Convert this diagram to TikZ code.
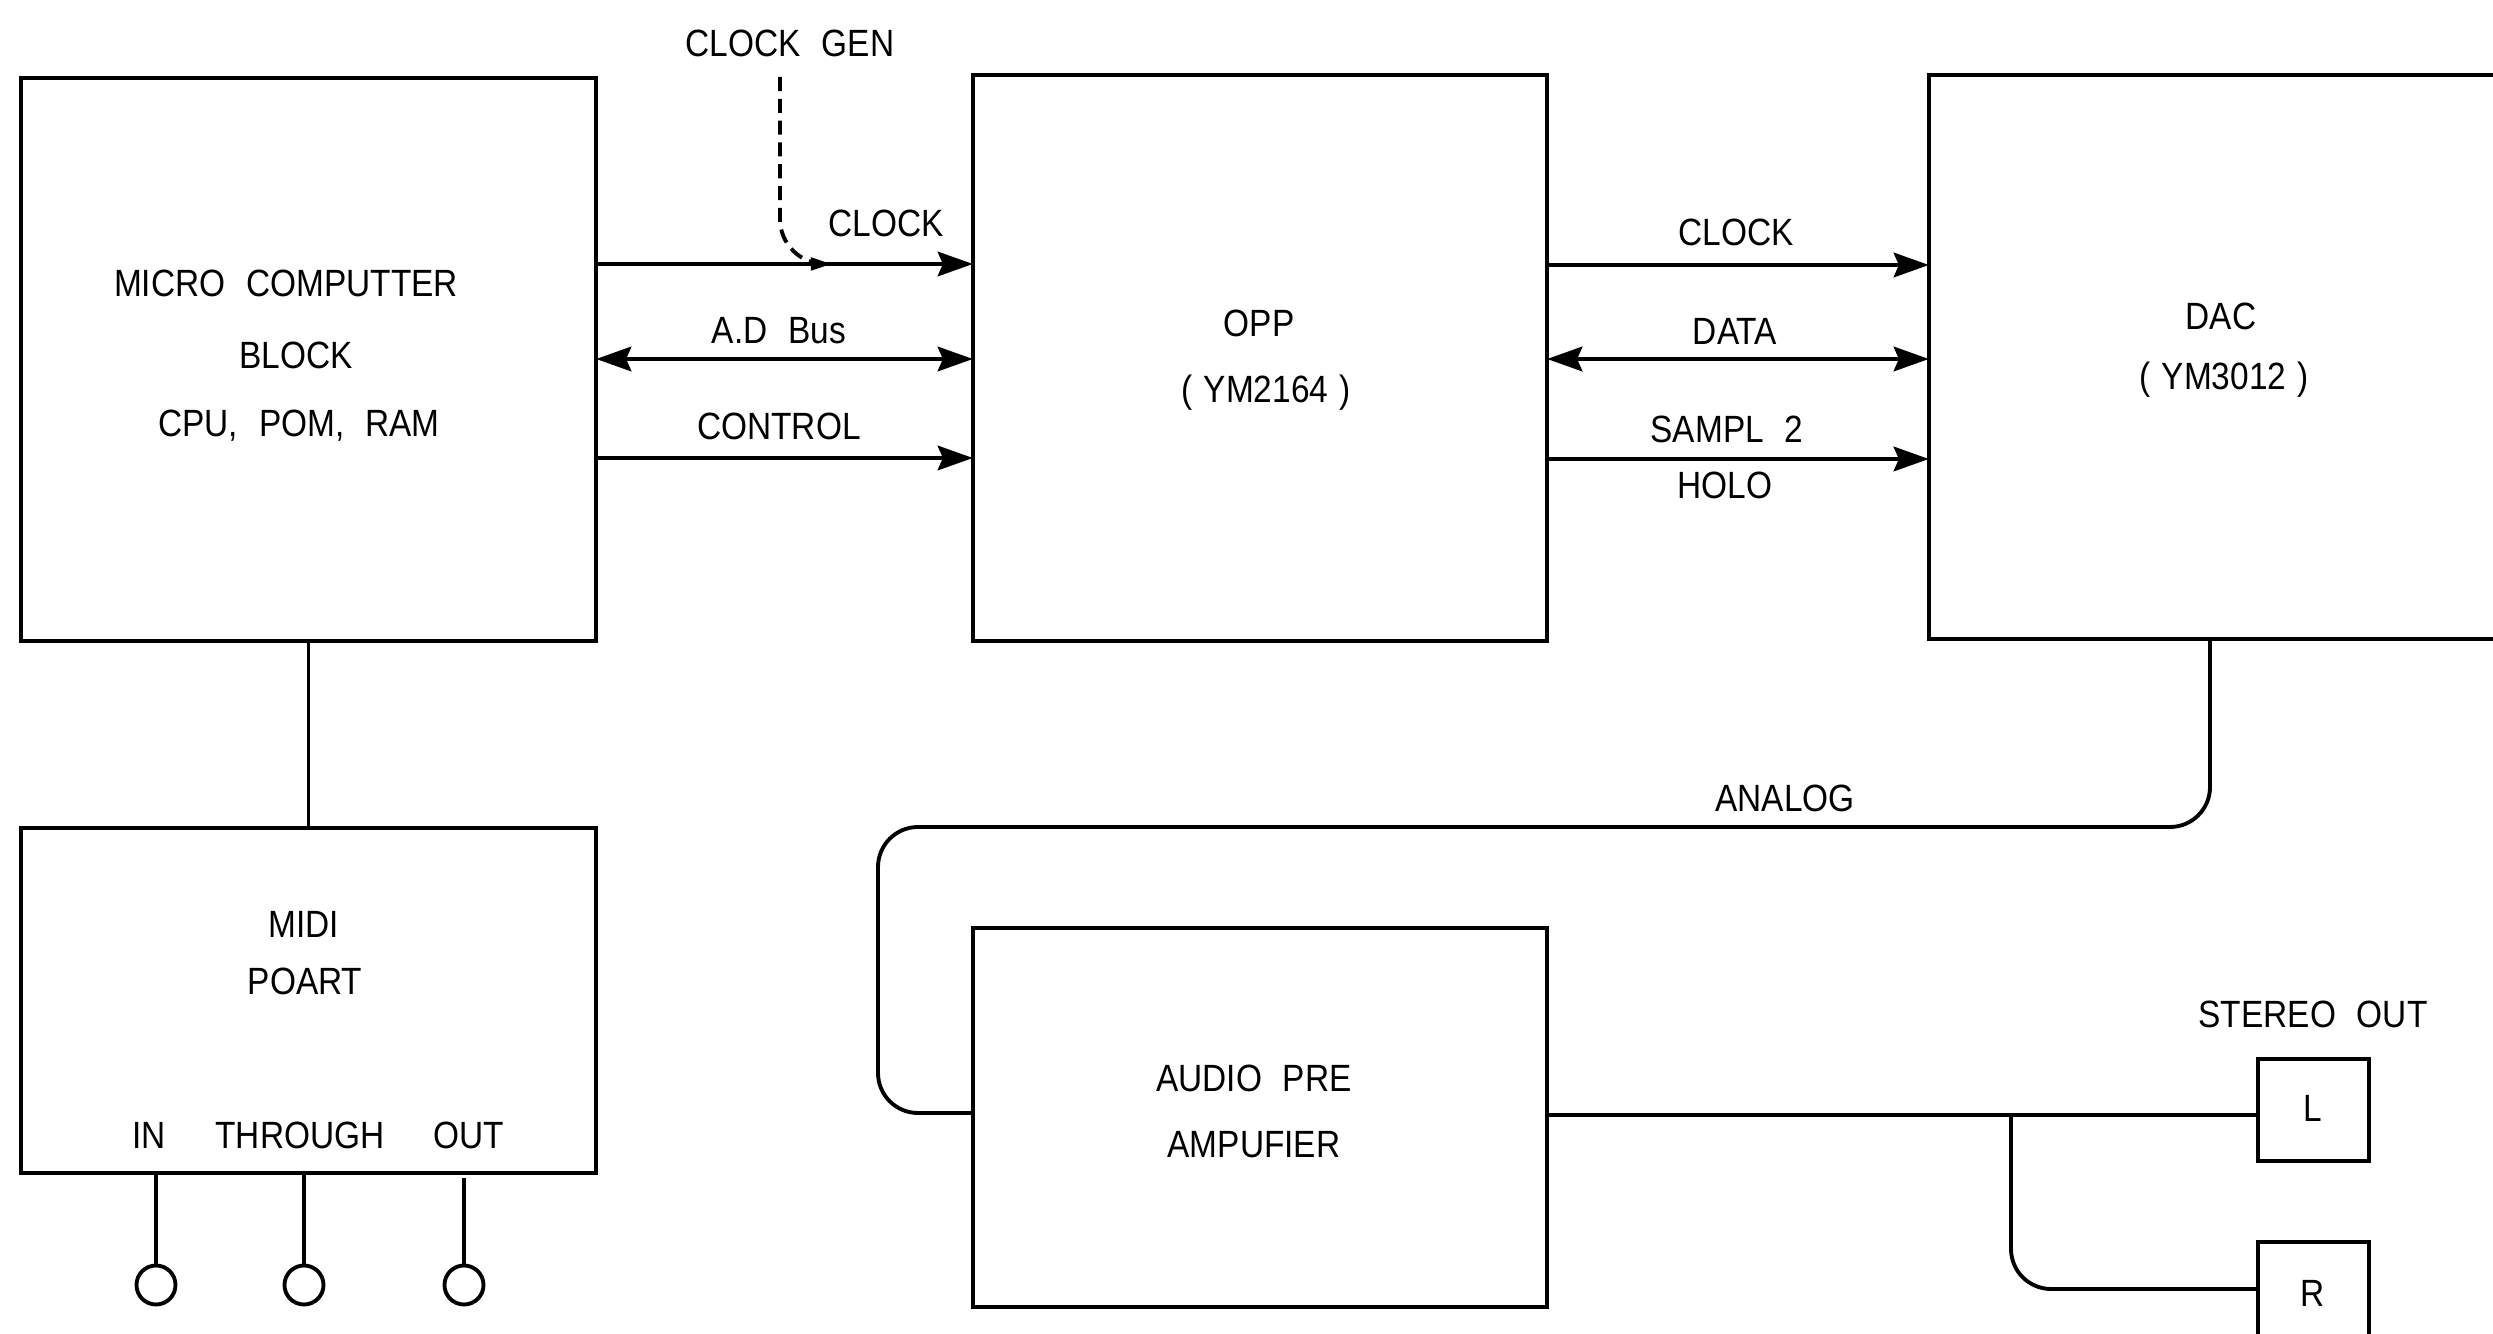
\documentclass[tikz,border=0pt]{standalone}
\usepackage{fontspec}
\setmainfont{Liberation Sans}[FakeStretch=0.88]
\usetikzlibrary{arrows.meta}
\newcommand\wsp{\hspace{0.55em}}
\newcommand\psp{\hspace{0.3em}}
\tikzset{
  box/.style={draw, line width=1.1pt, inner sep=0pt, outer sep=0pt},
  lbl/.style={inner sep=0pt, font=\fontsize{10.8}{12}\selectfont},
  wire/.style={line width=1.1pt},
  arr/.style={wire, -{Stealth[length=10pt,width=7pt,inset=1.5pt]}},
  darr/.style={wire, {Stealth[length=10pt,width=7pt,inset=1.5pt]}-{Stealth[length=10pt,width=7pt,inset=1.5pt]}},
  port/.style={draw, circle, line width=1.1pt, minimum size=0.39cm, inner sep=0pt},
}
\begin{document}
\begin{tikzpicture}[x=0.01cm, y=-0.01cm]
\useasboundingbox (0,0) rectangle (2493,1334);
% boxes
\node[box, minimum width=5.75cm, minimum height=5.63cm] (mcu) at (308.5,359.5) {};
\node[box, minimum width=5.74cm, minimum height=5.66cm] (opp) at (1260,358) {};
\node[box, minimum width=6.31cm, minimum height=5.64cm] (dac) at (2244.5,357) {};
\node[box, minimum width=5.75cm, minimum height=3.45cm] (midi) at (308.5,1000.5) {};
\node[box, minimum width=5.74cm, minimum height=3.79cm] (amp) at (1260,1117.5) {};
\node[box, minimum width=1.11cm, minimum height=1.02cm] (lbox) at (2313.5,1110) {};
\node[box, minimum width=1.11cm, minimum height=1.02cm] (rbox) at (2313.5,1293) {};
% box texts
\node[lbl] (t1) at (286,283) {MICRO\wsp COMPUTTER};
\node[lbl] (t2) at (296,355) {BLOCK};
\node[lbl] (t3) at (299,426) {CPU,\wsp POM,\wsp RAM};
\node[lbl] (t4) at (1259,323) {OPP};
\node[lbl] (t5) at (1266,393) {(\psp YM2164\psp)};
\node[lbl] (t6) at (2221,316) {DAC};
\node[lbl] (t7) at (2224,380) {(\psp YM3012\psp)};
\node[lbl] (t8) at (304,924) {MIDI};
\node[lbl] (t9) at (305,981) {POART};
\node[lbl] (t10) at (149,1135) {IN};
\node[lbl] (t11) at (300,1135) {THROUGH};
\node[lbl] (t12) at (469,1135) {OUT};
\node[lbl] (t13) at (1254,1078) {AUDIO\wsp PRE};
\node[lbl] (t14) at (1254,1145) {AMPUFIER};
\node[lbl] (t15) at (2313,1108) {L};
\node[lbl] (t16) at (2313,1293) {R};
% connector labels
\node[lbl] (cgen) at (790,43) {CLOCK\wsp GEN};
\node[lbl] (c1) at (886,223) {CLOCK};
\node[lbl] (c2) at (779,331) {A.D\wsp Bus};
\node[lbl] (c3) at (779,426) {CONTROL};
\node[lbl] (c4) at (1736,232) {CLOCK};
\node[lbl] (c5) at (1735,331) {DATA};
\node[lbl] (c6) at (1727,429) {SAMPL\wsp 2};
\node[lbl] (c7) at (1725,485) {HOLO};
\node[lbl] (c8) at (1785,798) {ANALOG};
\node[lbl] (c9) at (2313,1014) {STEREO\wsp OUT};
% MCU -> OPP
\draw[arr] (mcu.east |- 0,264) -- (opp.west |- 0,264);
\draw[darr] (mcu.east |- 0,359) -- (opp.west |- 0,359);
\draw[arr] (mcu.east |- 0,458) -- (opp.west |- 0,458);
% clock gen dashed
\coordinate (cg) at (780,77);
\coordinate (cgend) at (832,264);
\draw[wire, dashed, dash pattern=on 4pt off 2.2pt, rounded corners=0.45cm, -{Triangle[length=6pt,width=3.5pt]}] (cg) |- (cgend);
% OPP -> DAC
\draw[arr] (opp.east |- 0,265) -- (dac.west |- 0,265);
\draw[darr] (opp.east |- 0,359) -- (dac.west |- 0,359);
\draw[arr] (opp.east |- 0,459) -- (dac.west |- 0,459);
% MCU - MIDI
\draw[wire] (mcu.south) -- (midi.north);
% MIDI ports
\node[port] (p1) at (156,1285) {};
\node[port] (p2) at (304,1285) {};
\node[port] (p3) at (464,1285) {};
\draw[wire] (midi.south -| p1) -- (p1.north);
\draw[wire] (midi.south -| p2) -- (p2.north);
\draw[wire] (p3.north) -- (464,1178);
% ANALOG
\coordinate (ad) at (2210,639);
\draw[wire, rounded corners=0.4cm] (dac.south -| ad) -- (2210,827) -- (878,827) -- (878,1113) -- (amp.west |- 0,1113);
% output
\coordinate (br) at (2011,1115);
\draw[wire] (amp.east |- 0,1115) -- (lbox.west |- 0,1115);
\draw[wire, rounded corners=0.4cm] (br) -- (2011,1289) -- (rbox.west |- 0,1289);
\end{tikzpicture}
\end{document}
